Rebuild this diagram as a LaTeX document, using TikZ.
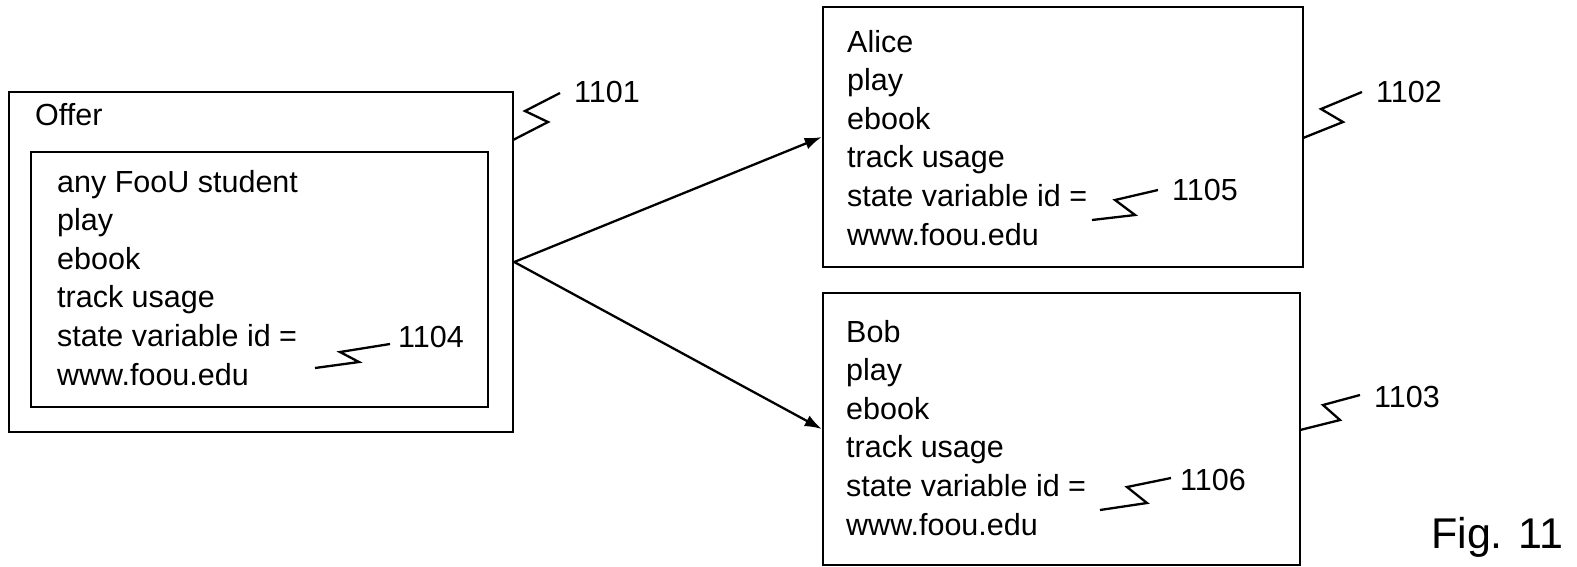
\documentclass[tikz,border=0pt]{standalone}
\usepackage{fontspec}
\setmainfont{Liberation Sans}
\usetikzlibrary{arrows.meta}
\tikzset{
  boxnode/.style={draw, rectangle, line width=2.5pt, inner sep=0pt},
  txt/.style={anchor=base west, inner sep=0pt, font=\fontsize{30.5}{36}\selectfont},
  figtxt/.style={anchor=base west, inner sep=0pt, font=\fontsize{43}{50}\selectfont},
  leader/.style={line width=2.3pt, line join=miter},
  conn/.style={line width=2.3pt, -{Latex[length=17pt,width=12pt]}}
}
\begin{document}
\begin{tikzpicture}[x=1pt,y=-1pt]
\useasboundingbox (0,0) rectangle (1577,566);
% boxes
\node[boxnode, minimum width=504pt, minimum height=340pt] (offer) at (261,262) {};
\node[boxnode, minimum width=457pt, minimum height=255pt] (inner) at (259.5,279.5) {};
\node[boxnode, minimum width=480pt, minimum height=260pt] (alice) at (1063,137) {};
\node[boxnode, minimum width=477pt, minimum height=272pt] (bob) at (1061.5,429) {};
% offer texts
\node[txt] (offertitle) at (35,125) {Offer};
\node[txt] (o1) at (57,192) {any FooU student};
\node[txt] (o2) at (57,230.6) {play};
\node[txt] (o3) at (57,269.2) {ebook};
\node[txt] (o4) at (57,307.8) {track usage};
\node[txt] (o5) at (57,346.4) {state variable id =};
\node[txt] (o6) at (57,385) {www.foou.edu};
% alice texts
\node[txt] (a1) at (847,52) {Alice};
\node[txt] (a2) at (847,90.6) {play};
\node[txt] (a3) at (847,129.2) {ebook};
\node[txt] (a4) at (847,167.8) {track usage};
\node[txt] (a5) at (847,206.4) {state variable id =};
\node[txt] (a6) at (847,245) {www.foou.edu};
% bob texts
\node[txt] (b1) at (846,342) {Bob};
\node[txt] (b2) at (846,380.6) {play};
\node[txt] (b3) at (846,419.2) {ebook};
\node[txt] (b4) at (846,457.8) {track usage};
\node[txt] (b5) at (846,496.4) {state variable id =};
\node[txt] (b6) at (846,535) {www.foou.edu};
% reference labels
\node[txt] (l1101) at (574,102) {1101};
\node[txt] (l1102) at (1376,102) {1102};
\node[txt] (l1103) at (1374,407) {1103};
\node[txt] (l1104) at (398,347) {1104};
\node[txt] (l1105) at (1172,200) {1105};
\node[txt] (l1106) at (1180,490) {1106};
\node[figtxt] (fig) at (1431,548) {Fig. 11};
% leaders
\draw[leader] (513,140) -- (548,122) -- (525,111) -- (560,93);
\draw[leader] (1303,138) -- (1343,122) -- (1321,109) -- (1362,92);
\draw[leader] (1300,430) -- (1340,420) -- (1323,405) -- (1360,395);
\draw[leader] (315,368) -- (359,362) -- (340,352) -- (390,344);
\draw[leader] (1092,220) -- (1135,215) -- (1115,200) -- (1158,190);
\draw[leader] (1100,510) -- (1147,503) -- (1127,487) -- (1171,478);
% connectors
\draw[conn] (offer.east) -- (alice.west);
\draw[conn] (offer.east) -- (bob.west);
\end{tikzpicture}
\end{document}
